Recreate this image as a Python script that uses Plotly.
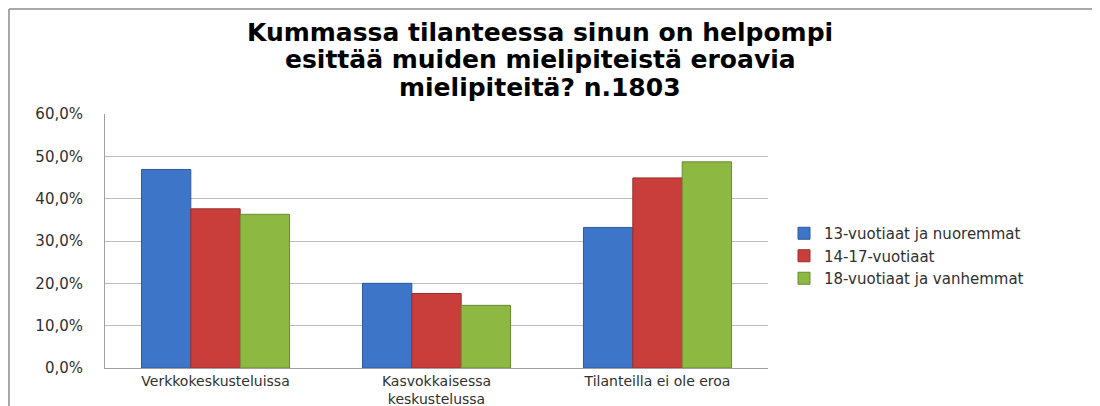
import plotly.graph_objects as go

categories = ["Verkkokeskusteluissa", "Kasvokkaisessa<br>keskustelussa", "Tilanteilla ei ole eroa"]
series_names = ["13-vuotiaat ja nuoremmat", "14-17-vuotiaat", "18-vuotiaat ja vanhemmat"]
values_13 = [46.9, 20.0, 33.2]
values_14_17 = [37.6, 17.6, 44.9]
values_18 = [36.3, 14.8, 48.7]
tick_vals = [0, 10, 20, 30, 40, 50, 60]
tick_text = ["0,0%", "10,0%", "20,0%", "30,0%", "40,0%", "50,0%", "60,0%"]
title_lines = ["Kummassa tilanteessa sinun on helpompi",
               "esittää muiden mielipiteistä eroavia",
               "mielipiteitä? n.1803"]

colors = ["#3d76c8", "#c93d3b", "#8db842"]
edges = ["#2f5a98", "#9a2e2c", "#6b8a30"]

fig = go.Figure()
for name, vals, c, e in zip(series_names, [values_13, values_14_17, values_18], colors, edges):
    fig.add_trace(go.Bar(x=categories, y=vals, name=name,
                         marker=dict(color=c, line=dict(color=e, width=1))))

# page body has an 8px margin; work in reference pixel coords and shift
OFF = 8
W, H = 1100 - OFF, 406 - OFF
plot_left, plot_right, plot_top, plot_bottom = 105, 768, 114, 368
L = plot_left - OFF
R = W - (plot_right - OFF)
T = plot_top - OFF
B = H - (plot_bottom - OFF)
pw, ph = plot_right - plot_left, plot_bottom - plot_top

def px_x(p):
    return (p - plot_left) / pw

def px_y(p):
    return (plot_bottom - p) / ph

annotations = []
for i, line in enumerate(title_lines):
    annotations.append(dict(text="<b>" + line + "</b>", xref="paper", yref="paper",
                            x=px_x(540), y=px_y(33 + 27 * i), xanchor="center",
                            yanchor="middle", showarrow=False,
                            font=dict(family="DejaVu Sans", size=25, color="#000000")))

fig.update_layout(
    width=W, height=H,
    margin=dict(l=L, r=R, t=T, b=B),
    paper_bgcolor="white", plot_bgcolor="white",
    barmode="group", bargap=0.33, bargroupgap=0,
    font=dict(family="DejaVu Sans", color="#404040"),
    legend=dict(x=px_x(784), xanchor="left", y=px_y(256), yanchor="middle",
                font=dict(size=15, color="#303030"), tracegroupgap=0,
                itemwidth=30, bgcolor="rgba(0,0,0,0)"),
    xaxis=dict(showline=True, linecolor="#a0a0a0", linewidth=1, automargin=False,
               tickfont=dict(size=14, color="#303030"), ticks="",
               ticklabelstandoff=0),
    yaxis=dict(range=[0, 60], tickvals=tick_vals, ticktext=tick_text,
               showgrid=True, gridcolor="#bcbcbc", gridwidth=1, automargin=False,
               showline=True, linecolor="#a0a0a0", linewidth=1,
               tickfont=dict(size=15, color="#303030"), ticks="",
               ticklabelstandoff=18, zeroline=False),
    showlegend=True,
    annotations=annotations,
    shapes=[
        dict(type="line", xref="paper", yref="paper",
             x0=px_x(9), x1=px_x(1100), y0=px_y(9), y1=px_y(9),
             line=dict(color="#8a8a8a", width=1.5)),
        dict(type="line", xref="paper", yref="paper",
             x0=px_x(9), x1=px_x(9), y0=px_y(9), y1=px_y(406),
             line=dict(color="#8a8a8a", width=1.5)),
    ],
)

fig.write_html("out.html")
